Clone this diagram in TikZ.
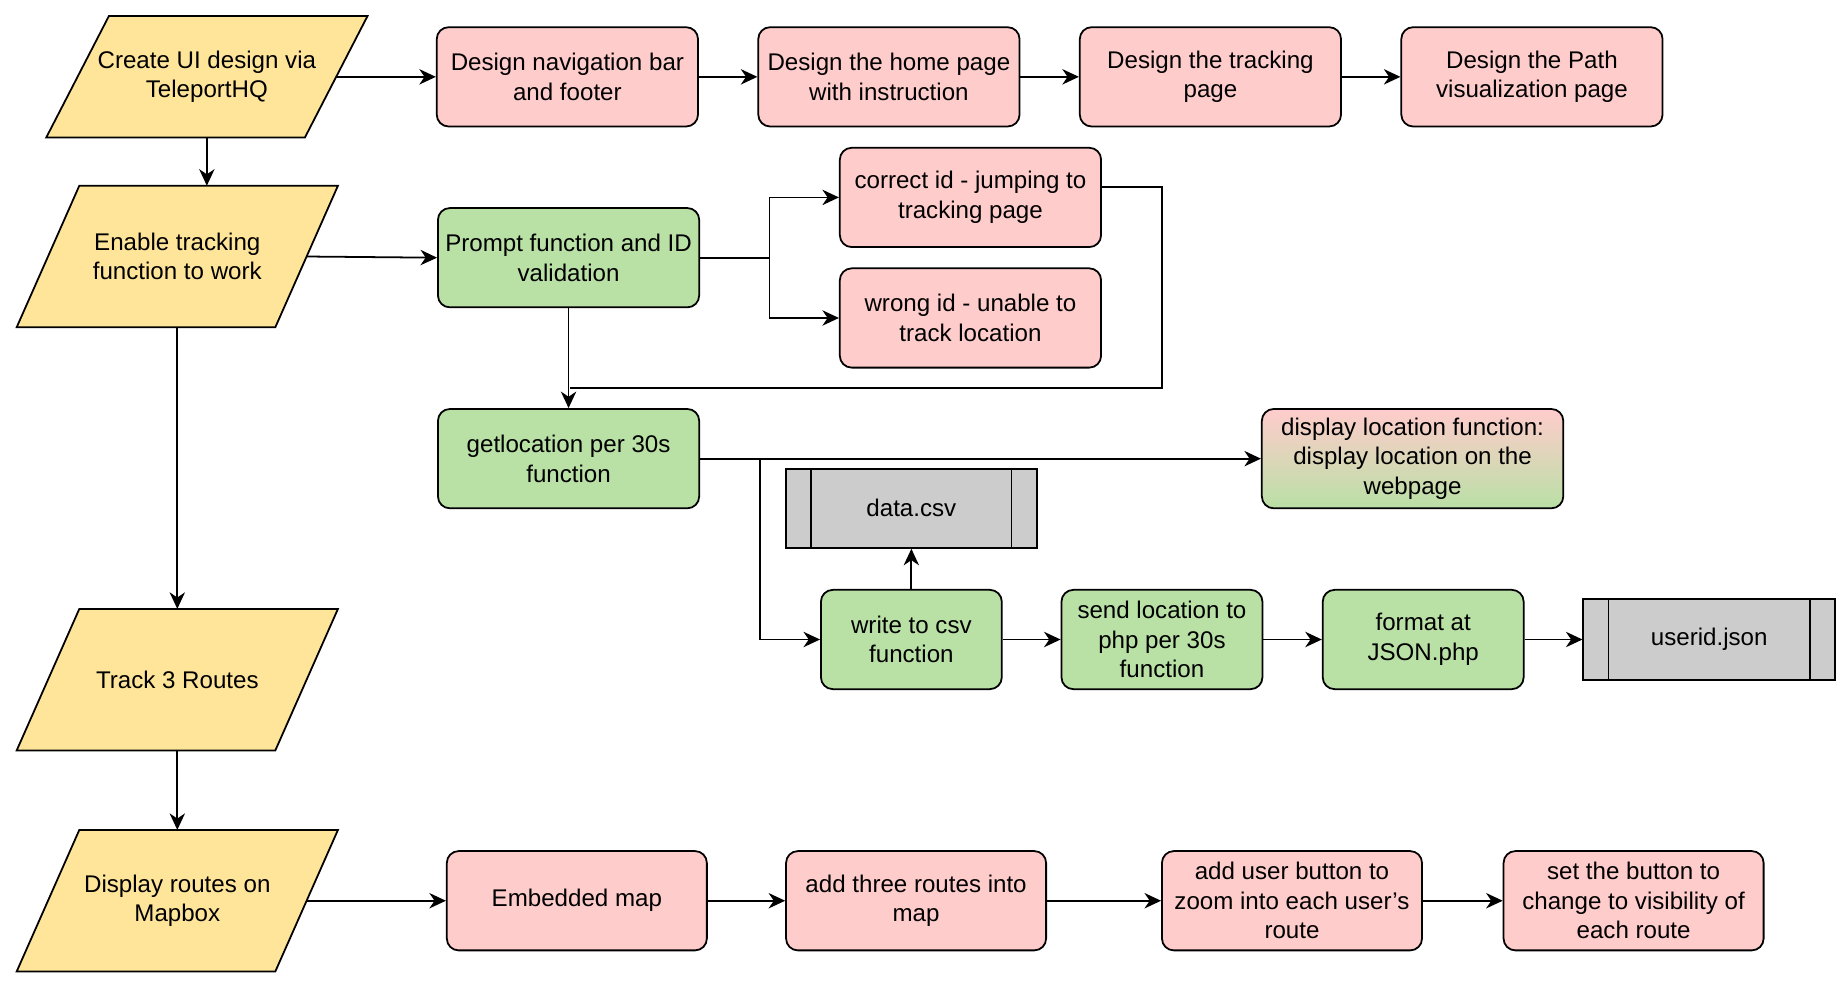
\documentclass[tikz,border=0pt]{standalone}
\usepackage{fontspec}
\setmainfont{Liberation Sans}
\usetikzlibrary{arrows.meta,positioning,backgrounds}

\definecolor{ioyellow}{HTML}{FFE599}
\definecolor{taskpink}{HTML}{FFCCCC}
\definecolor{funcgreen}{HTML}{B9E0A5}
\definecolor{storegray}{HTML}{CCCCCC}

\begin{document}
\begin{tikzpicture}[
  x=0.5pt, y=-0.5pt,
  font=\fontsize{10.2}{12.5}\selectfont,
  box/.style={draw, rounded corners=5pt, align=center, inner sep=0pt,
    minimum width=110.5pt, minimum height=42pt, line width=0.75pt},
  task/.style={box, fill=taskpink},
  func/.style={box, fill=funcgreen},
  io/.style={align=center, inner sep=0pt, minimum width=109pt, minimum height=59.5pt},
  io shape/.style={draw, fill=ioyellow, line width=0.75pt},
  store/.style={draw, fill=storegray, minimum width=106pt, minimum height=33.5pt,
    inner sep=0pt, line width=0.75pt},
  flow/.style={line width=0.75pt, -{Stealth[length=7pt,width=6.5pt,inset=2.2pt]}},
  link/.style={line width=0.75pt}
]
  % Fix the page size
  \useasboundingbox (0,0) rectangle (1560,832);

  % Main steps (left column)
  \node[io, minimum height=51pt] (ui) at (175,65) {Create UI design via\\TeleportHQ};
  \node[io] (enable) at (150,217) {Enable tracking\\function to work};
  \node[io] (routes) at (150,575) {Track 3 Routes};
  \node[io] (mapbox) at (150,762) {Display routes on\\Mapbox};

  % Parallelogram outlines behind the main steps
  \begin{scope}[on background layer]
    \foreach \n in {ui, enable, routes, mapbox}
      \draw[io shape] ([xshift=13.25pt]\n.north west) -- ([xshift=13.25pt]\n.north east)
        -- ([xshift=-13.25pt]\n.south east) -- ([xshift=-13.25pt]\n.south west) -- cycle;
  \end{scope}

  % UI design pages
  \node[task] (nav) at (480,65) {Design navigation bar\\and footer};
  \node[task] (home) at (752,65) {Design the home page\\with instruction};
  \node[task] (trackpage) at (1024,65) {Design the tracking\\page};
  \node[task] (pathpage) at (1296,65) {Design the Path\\visualization page};

  % Tracking functions
  \node[func] (prompt) at (481,218) {Prompt function and ID\\validation};
  \node[task] (correct) at (821,167) {correct id - jumping to\\tracking page};
  \node[task] (wrong) at (821,269) {wrong id - unable to\\track location};
  \node[func] (getloc) at (481,388) {getlocation per 30s\\function};
  \node[box, minimum width=127.5pt, top color=taskpink, bottom color=funcgreen]
    (display) at (1195,388) {display location function:\\display location on the\\webpage};
  \node[store] (csv) at (771,430) {data.csv};
  \node[func, minimum width=76.5pt] (write) at (771,541) {write to csv\\function};
  \node[func, minimum width=85pt] (send) at (983,541) {send location to\\php per 30s\\function};
  \node[func, minimum width=85pt] (format) at (1204,541) {format at\\JSON.php};
  \node[store, minimum width=106.5pt, minimum height=34pt] (json) at (1446,541) {userid.json};

  % Side bars of the stored files
  \foreach \f in {csv, json} {
    \draw[link] ([xshift=11pt]\f.north west) -- ([xshift=11pt]\f.south west);
    \draw[link] ([xshift=-11pt]\f.north east) -- ([xshift=-11pt]\f.south east);
  }

  % Map display steps
  \node[task, minimum width=110pt] (embed) at (488,762) {Embedded map};
  \node[task, minimum width=110pt] (three) at (775,762) {add three routes into\\map};
  \node[task, minimum width=110pt] (button) at (1093,762) {add user button to\\zoom into each user's\\route};
  \node[task, minimum width=110pt] (visible) at (1382,762) {set the button to\\change to visibility of\\each route};

  % Helper points for the joints
  \coordinate (fork) at (651,218);
  \coordinate (loopright) at (983,328);
  \coordinate (merge) at (482,328);
  \coordinate (tap) at (643,388);

  % Left column arrows
  \draw[flow] (ui.south) -- (ui.south |- enable.north);
  \draw[flow] (enable.south) -- (routes.north);
  \draw[flow] (routes.south) -- (mapbox.north);

  % UI design row
  \draw[flow] (ui.east) -- (nav.west);
  \draw[flow] (nav) -- (home);
  \draw[flow] (home) -- (trackpage);
  \draw[flow] (trackpage) -- (pathpage);

  % ID validation branches
  \draw[flow] (enable.east) -- (prompt.west);
  \draw[flow] (prompt.east) -- (fork) |- (correct.west);
  \draw[flow] (fork) |- (wrong.west);
  \draw[link] ([yshift=4.5pt]correct.east) -| (loopright) -- (merge);
  \draw[flow] (prompt.south) -- (getloc.north);

  % Location handling
  \draw[flow] (getloc.east) -- (display.west);
  \draw[flow] (tap) |- (write.west);
  \draw[flow] (write.north) -- (csv.south);
  \draw[flow] (write) -- (send);
  \draw[flow] (send) -- (format);
  \draw[flow] (format) -- (json);

  % Map display row
  \draw[flow] (mapbox.east) -- (embed.west);
  \draw[flow] (embed) -- (three);
  \draw[flow] (three) -- (button);
  \draw[flow] (button) -- (visible);

\end{tikzpicture}
\end{document}
